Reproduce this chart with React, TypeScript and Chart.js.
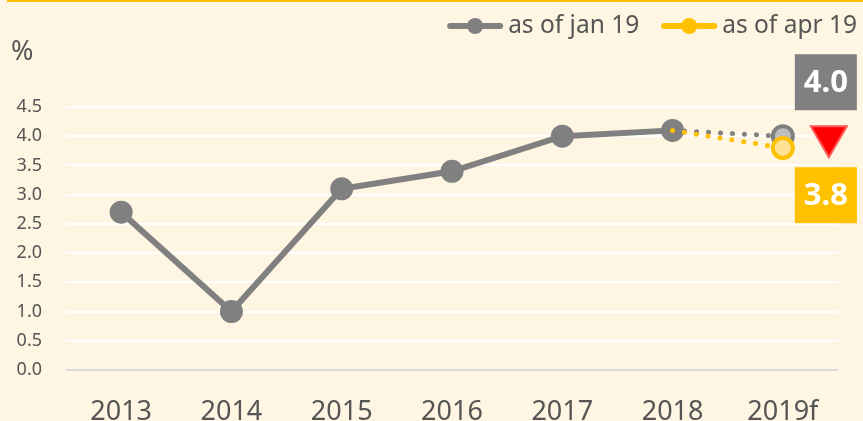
import React, { useEffect, useRef } from "react";
import { Chart, registerables } from "chart.js";

Chart.register(...registerables);

const years = ["2013", "2014", "2015", "2016", "2017", "2018", "2019f"];
const jan19 = [2.7, 1.0, 3.1, 3.4, 4.0, 4.1, 4.0];
const apr19 = [null, null, null, null, null, 4.1, 3.8];
const seriesLabels = ["as of jan 19", "as of apr 19"];
const yMin = 0;
const yMax = 4.5;
const yStep = 0.5;

const GRAY = "#808080";
const YELLOW = "#FFC000";
const BG = "#FEF5E2";
const TEXT = "#555555";
const FONT = "'Noto Sans', sans-serif";

const decorPlugin = {
  id: "decor",
  beforeDraw(chart: any) {
    const { ctx, width } = chart;
    ctx.save();
    ctx.fillStyle = BG;
    ctx.fillRect(0, 0, width, chart.height);
    ctx.fillStyle = YELLOW;
    ctx.fillRect(7, 0, width - 7, 2);
    ctx.restore();
  },
  afterDraw(chart: any) {
    const { ctx } = chart;
    ctx.save();
    // "%" unit
    ctx.fillStyle = TEXT;
    ctx.font = `27px ${FONT}`;
    ctx.textBaseline = "middle";
    ctx.textAlign = "left";
    ctx.fillText("%", 11, 52);

    // legend
    ctx.font = `24.5px ${FONT}`;
    const colors = [GRAY, YELLOW];
    const widths = seriesLabels.map((l) => ctx.measureText(l).width);
    const sample = 56;
    const gap = 5;
    const between = 22;
    let total = 0;
    widths.forEach((w, i) => {
      total += sample + gap + w + (i < widths.length - 1 ? between : 0);
    });
    let x = 857 - total;
    const y = 26;
    seriesLabels.forEach((label, i) => {
      ctx.strokeStyle = colors[i];
      ctx.lineWidth = 6;
      ctx.lineCap = "round";
      ctx.beginPath();
      ctx.moveTo(x + 3, y);
      ctx.lineTo(x + sample - 3, y);
      ctx.stroke();
      ctx.fillStyle = colors[i];
      ctx.beginPath();
      ctx.arc(x + sample / 2, y, 8, 0, Math.PI * 2);
      ctx.fill();
      ctx.fillStyle = TEXT;
      ctx.fillText(label, x + sample + gap, y);
      x += sample + gap + widths[i] + between;
    });

    // callouts for the forecast point
    const meta0 = chart.getDatasetMeta(0);
    const p = meta0.data[meta0.data.length - 1];
    const bx = p.x + 12;
    const bw = 62;
    const bh = 56;
    ctx.fillStyle = GRAY;
    ctx.fillRect(bx, p.y - 82, bw, bh);
    ctx.fillStyle = YELLOW;
    ctx.fillRect(bx, p.y + 31, bw, bh);
    ctx.fillStyle = "#FFFFFF";
    ctx.font = `bold 31px ${FONT}`;
    ctx.textAlign = "center";
    ctx.fillText(jan19[jan19.length - 1].toFixed(1), bx + bw / 2, p.y - 82 + bh / 2 + 1);
    ctx.fillText((apr19[apr19.length - 1] as number).toFixed(1), bx + bw / 2, p.y + 31 + bh / 2 + 1);

    // down triangle
    const tx = bx + 34;
    ctx.fillStyle = "#FF0000";
    ctx.strokeStyle = "#FF5A5A";
    ctx.lineWidth = 2;
    ctx.lineJoin = "miter";
    ctx.beginPath();
    ctx.moveTo(tx - 18, p.y - 10);
    ctx.lineTo(tx + 18, p.y - 10);
    ctx.lineTo(tx, p.y + 21);
    ctx.closePath();
    ctx.fill();
    ctx.stroke();
    ctx.restore();
  },
};

export default function App() {
  const ref = useRef<HTMLCanvasElement>(null);
  useEffect(() => {
    document.body.style.margin = "0";
    document.body.style.background = BG;
    const last = years.length - 1;
    const chart = new Chart(ref.current as HTMLCanvasElement, {
      type: "line",
      data: {
        labels: years,
        datasets: [
          {
            label: seriesLabels[0],
            data: jan19,
            borderColor: GRAY,
            borderWidth: 6,
            borderCapStyle: "round",
            backgroundColor: GRAY,
            pointRadius: years.map((_, i) => (i === last ? 10 : 11.5)),
            pointHoverRadius: years.map((_, i) => (i === last ? 10 : 11.5)),
            pointBorderWidth: years.map((_, i) => (i === last ? 4 : 0)),
            pointBackgroundColor: years.map((_, i) => (i === last ? "#BDBDBD" : GRAY)),
            pointBorderColor: GRAY,
            order: 2,
            segment: {
              borderDash: (c: any) => (c.p1DataIndex === last ? [0, 12] : undefined),
              borderWidth: (c: any) => (c.p1DataIndex === last ? 5 : 6),
            },
          } as any,
          {
            label: seriesLabels[1],
            data: apr19,
            borderColor: YELLOW,
            borderWidth: 5,
            borderCapStyle: "round",
            borderDash: [0, 12],
            backgroundColor: YELLOW,
            pointRadius: years.map((_, i) => (i === last ? 10 : 0)),
            pointHoverRadius: years.map((_, i) => (i === last ? 10 : 0)),
            pointBorderWidth: 4,
            pointBackgroundColor: "#FFE293",
            pointBorderColor: YELLOW,
            order: 1,
          } as any,
        ],
      },
      options: {
        animation: false,
        responsive: false,
        devicePixelRatio: 1,
        events: [],
        layout: { padding: { top: 107, right: 25, bottom: 0, left: 0 } },
        plugins: { legend: { display: false }, tooltip: { enabled: false } },
        scales: {
          x: {
            offset: true,
            grid: { display: false },
            border: { display: false },
            ticks: { color: TEXT, font: { family: FONT, size: 27 }, padding: 18 },
            afterFit: (s: any) => {
              s.height = 51;
            },
          },
          y: {
            min: yMin,
            max: yMax,
            ticks: {
              stepSize: yStep,
              color: TEXT,
              padding: 24,
              font: { family: FONT, size: 18 },
              callback: (v: any) => Number(v).toFixed(1),
            },
            grid: {
              drawTicks: false,
              lineWidth: 2,
              color: (c: any) => (c.tick && c.tick.value === 0 ? "#D9DBE0" : "#FFFFFF"),
            },
            border: { display: false },
            afterFit: (s: any) => {
              s.width = 66;
            },
          },
        },
      },
      plugins: [decorPlugin],
    });
    return () => chart.destroy();
  }, []);
  return <canvas ref={ref} width={863} height={421} style={{ display: "block" }} />;
}
